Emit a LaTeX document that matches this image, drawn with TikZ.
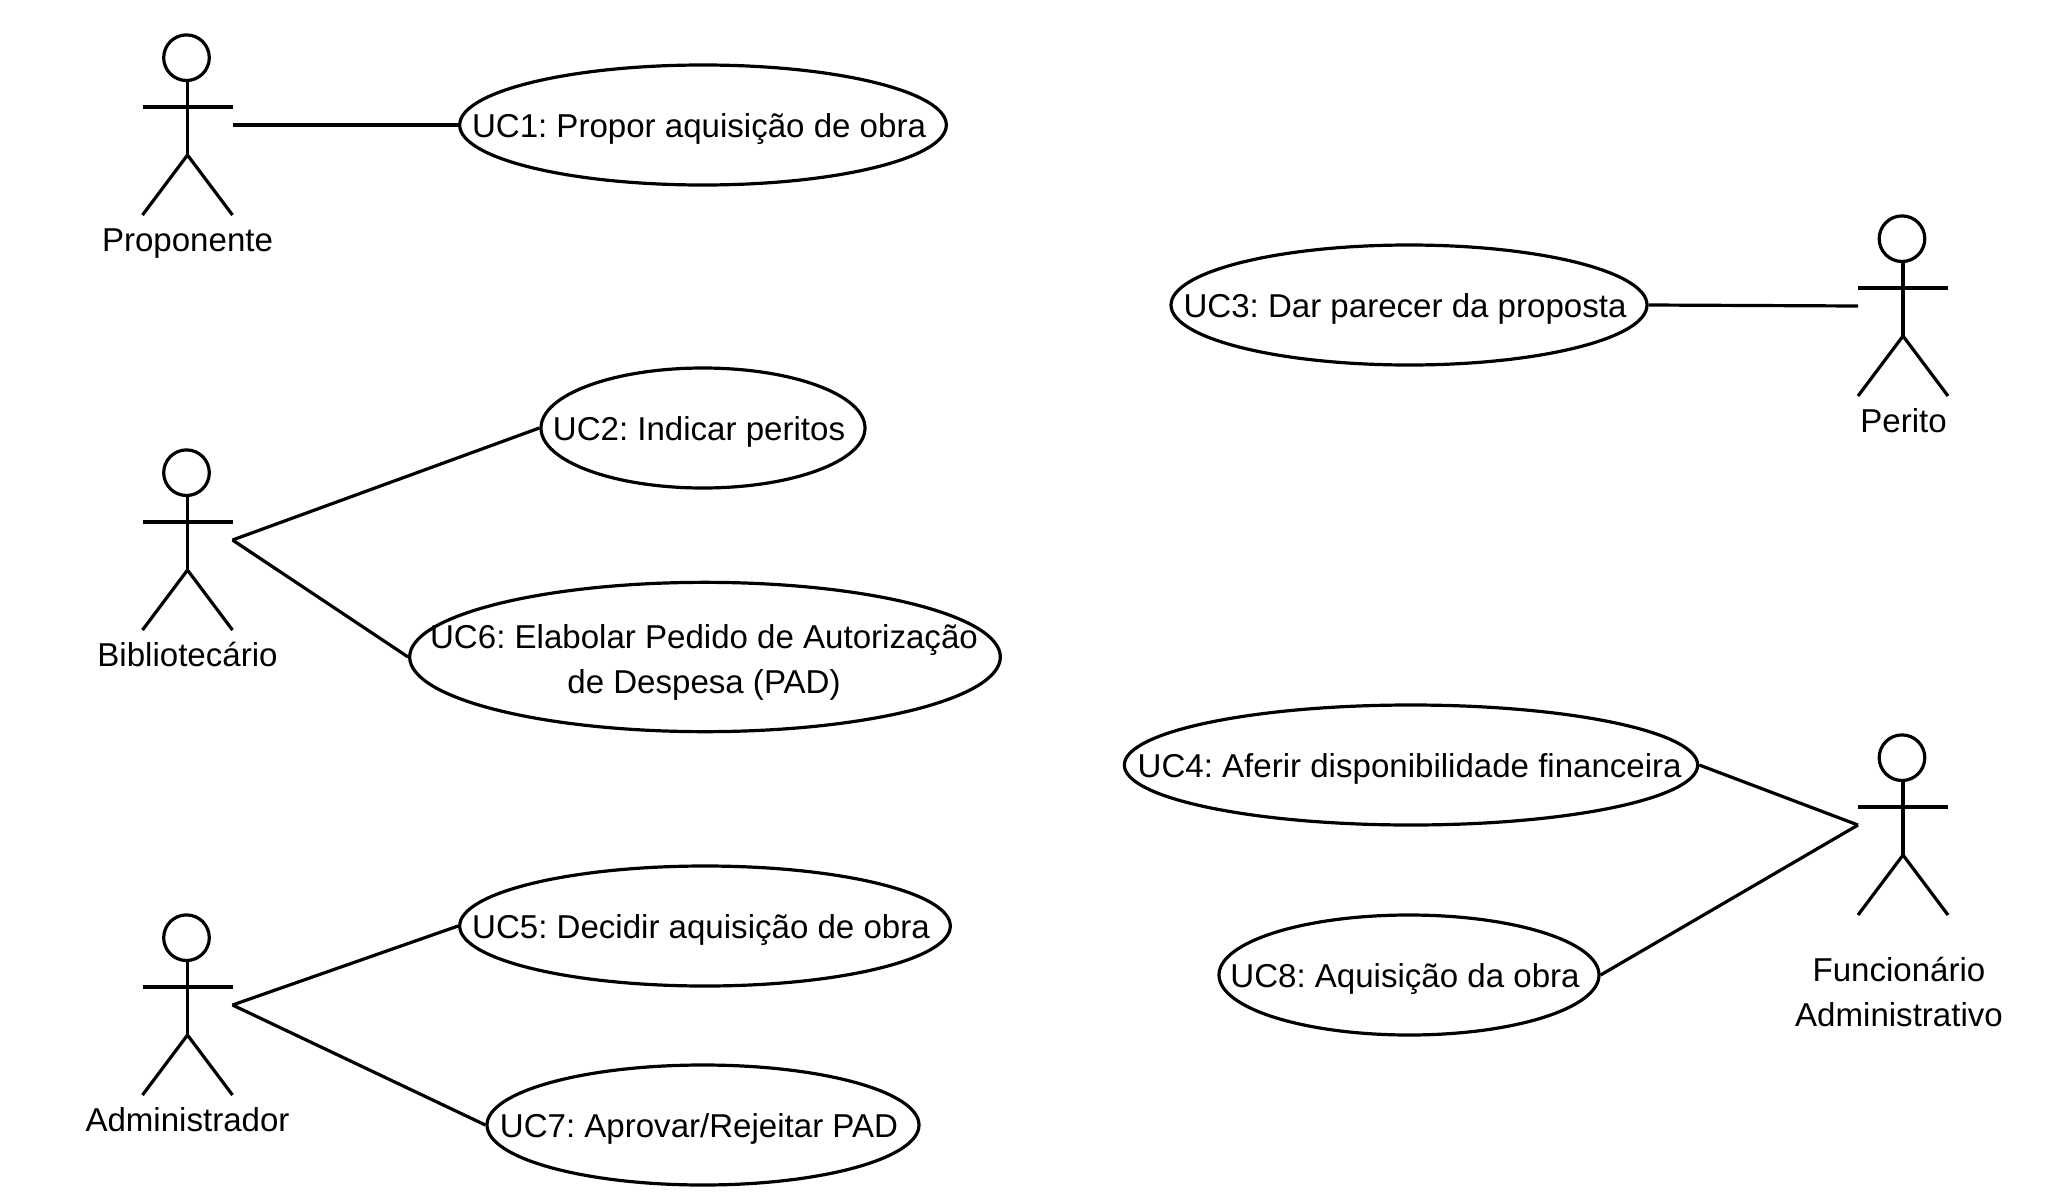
\documentclass[tikz,border=0pt]{standalone}
\usepackage{fontspec}
\setmainfont{Liberation Sans}
\usetikzlibrary{shapes.geometric}
\tikzset{
  x=0.75pt,y=-0.75pt,
  line/.style={draw=black,line width=2.4pt},
  lbl/.style={align=center,inner sep=0pt,text height=24pt,text depth=6pt,font=\fontsize{24.8}{33.75}\selectfont},
  uc/.style={ellipse,draw=black,line width=2.4pt,inner sep=0pt,minimum height=90pt},
  actorpart/.style={draw=black,line width=2.4pt,fill=white}
}
\newcommand{\actor}[3]{% name, cx, top
  \draw[actorpart] (#2-1,#3+22.7) circle [radius=17.1pt];
  \draw[line] (#2,#3+45) -- (#2,#3+120);
  \draw[line] (#2-45,#3+72) -- (#2+45,#3+72);
  \draw[line] (#2-45,#3+180) -- (#2,#3+120) -- (#2+45,#3+180);
  \coordinate (#1L) at (#2-45,#3+90);
  \coordinate (#1R) at (#2+45,#3+90);
}
\begin{document}
\frenchspacing
\begin{tikzpicture}
\useasboundingbox (0,0) rectangle (2064,1196);
\actor{prop}{187.5}{35}
\actor{bib}{187.5}{450}
\actor{adm}{187.5}{915}
\actor{per}{1903}{216}
\actor{fun}{1903}{735}
\node[lbl] (lprop) at (187.5,239.3) {Proponente};
\node[lbl] (lbib) at (187.5,654.3) {Bibliotecário};
\node[lbl] (ladm) at (187.5,1119.3) {Administrador};
\node[lbl] (lper) at (1903.5,420) {Perito};
\node[lbl] (lfun) at (1899,1014.5) {Funcionário\\Administrativo};
\node[uc,minimum width=365pt] (uc1) at (703,125) {};
\node[lbl] (t1) at (699,125) {UC1: Propor aquisição de obra};
\node[uc,minimum width=243pt] (uc2) at (703,428) {};
\node[lbl] (t2) at (699,428) {UC2: Indicar peritos};
\node[uc,minimum width=443pt,minimum height=112pt] (uc6) at (705,657) {};
\node[lbl] (t6) at (704,681) {UC6: Elabolar Pedido de Autorização\\de Despesa (PAD)};
\node[uc,minimum width=368pt] (uc5) at (705,926) {};
\node[lbl] (t5) at (701,926) {UC5: Decidir aquisição de obra};
\node[uc,minimum width=324pt] (uc7) at (703,1125) {};
\node[lbl] (t7) at (699,1125) {UC7: Aprovar/Rejeitar PAD};
\node[uc,minimum width=357pt] (uc3) at (1409,305) {};
\node[lbl] (t3) at (1405,305) {UC3: Dar parecer da proposta};
\node[uc,minimum width=430pt] (uc4) at (1411,765) {};
\node[lbl] (t4) at (1409.7,765) {UC4: Aferir disponibilidade financeira};
\node[uc,minimum width=285pt] (uc8) at (1409,975) {};
\node[lbl] (t8) at (1405,975) {UC8: Aquisição da obra};
\draw[line] (propR) -- (uc1.west);
\draw[line] (bibR) -- (uc2.west);
\draw[line] (bibR) -- (uc6.west);
\draw[line] (admR) -- (uc5.west);
\draw[line] (admR) -- (uc7.west);
\draw[line] (uc3.east) -- (perL);
\draw[line] (uc4.east) -- (funL);
\draw[line] (uc8.east) -- (funL);
\end{tikzpicture}
\end{document}
